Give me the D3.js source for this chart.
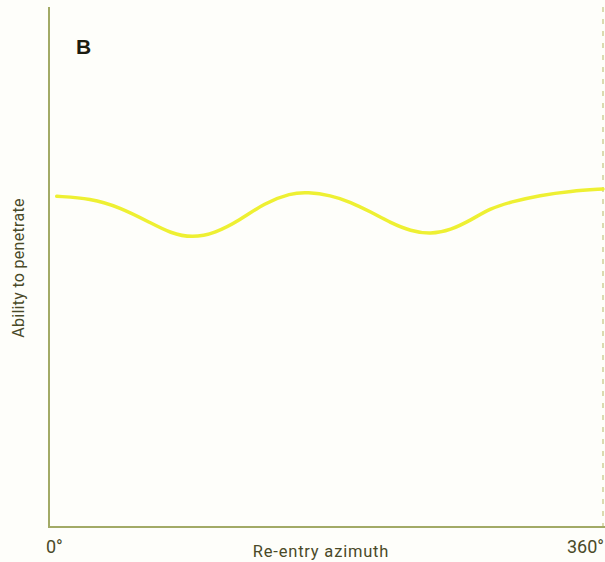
<!DOCTYPE html>
<html><head><meta charset="utf-8">
<script src="https://cdn.jsdelivr.net/npm/d3@7"></script>
<style>html,body{margin:0;padding:0;background:#fefefa;}svg{display:block;}</style>
</head><body>
<script>
const azimuthDeg = [5,27,46,66,79,93,108,124,140,157,168,183,196,209,222,235,248,261,274,287,300,319,339,360];
const penetration = [63.6,63.2,61.5,58.5,56.5,55.6,56.5,59.0,62.3,64.2,64.4,63.8,62.5,60.6,58.5,56.9,56.3,57.1,59.0,61.3,62.5,63.8,64.6,65.0];
const xTickLabels = ["0°","360°"];
const panelLabel = "B";
const xTitle = "Re-entry azimuth";
const yTitle = "Ability to penetrate";

const W=605,H=562;
const svg=d3.select("body").append("svg").attr("width",W).attr("height",H);
svg.append("rect").attr("width",W).attr("height",H).attr("fill","#fefefa");
const x=d3.scaleLinear().domain([0,360]).range([49,603]);
const y=d3.scaleLinear().domain([0,100]).range([527,7]);
const axisCol="#a2aa66";
// right faint dashed border
svg.append("line").attr("x1",603).attr("x2",603).attr("y1",y(100)).attr("y2",y(0))
  .attr("stroke","#cfcf98").attr("stroke-width",1.5).attr("stroke-dasharray","5,7");
// axes
svg.append("line").attr("x1",x(0)).attr("x2",x(0)).attr("y1",y(100)).attr("y2",y(0)+1)
  .attr("stroke",axisCol).attr("stroke-width",2);
svg.append("line").attr("x1",x(0)-1).attr("x2",W).attr("y1",y(0)).attr("y2",y(0))
  .attr("stroke",axisCol).attr("stroke-width",2);
// curve
const pts=azimuthDeg.map((d,i)=>[d,penetration[i]]);
svg.append("path").datum(pts)
  .attr("d",d3.line().x(d=>x(d[0])).y(d=>y(d[1])).curve(d3.curveBasis))
  .attr("fill","none").attr("stroke","#eef032").attr("stroke-width",3.5).attr("stroke-linecap","round");
// labels
const tc="#4a4a28";
svg.append("text").attr("x",x(0)-3).attr("y",553).text(xTickLabels[0])
  .attr("font-family","Roboto, sans-serif").attr("font-size",18).attr("fill",tc);
svg.append("text").attr("x",W-1).attr("y",553).attr("text-anchor","end").text(xTickLabels[1])
  .attr("font-family","Roboto, sans-serif").attr("font-size",18).attr("fill",tc);
svg.append("text").attr("x",321).attr("y",557).attr("text-anchor","middle").text(xTitle)
  .attr("font-family","Roboto, sans-serif").attr("font-size",16.5).attr("fill",tc).attr("letter-spacing",0.8);
svg.append("text").attr("transform","translate(24,268) rotate(-90)").attr("text-anchor","middle").text(yTitle)
  .attr("font-family","Roboto, sans-serif").attr("font-size",16).attr("fill",tc).attr("letter-spacing",0.3);
svg.append("text").attr("x",76).attr("y",54).text(panelLabel)
  .attr("font-family","Liberation Sans, Arial, sans-serif").attr("font-weight","bold").attr("font-size",21).attr("fill","#1c1c10");
</script>
</body></html>
